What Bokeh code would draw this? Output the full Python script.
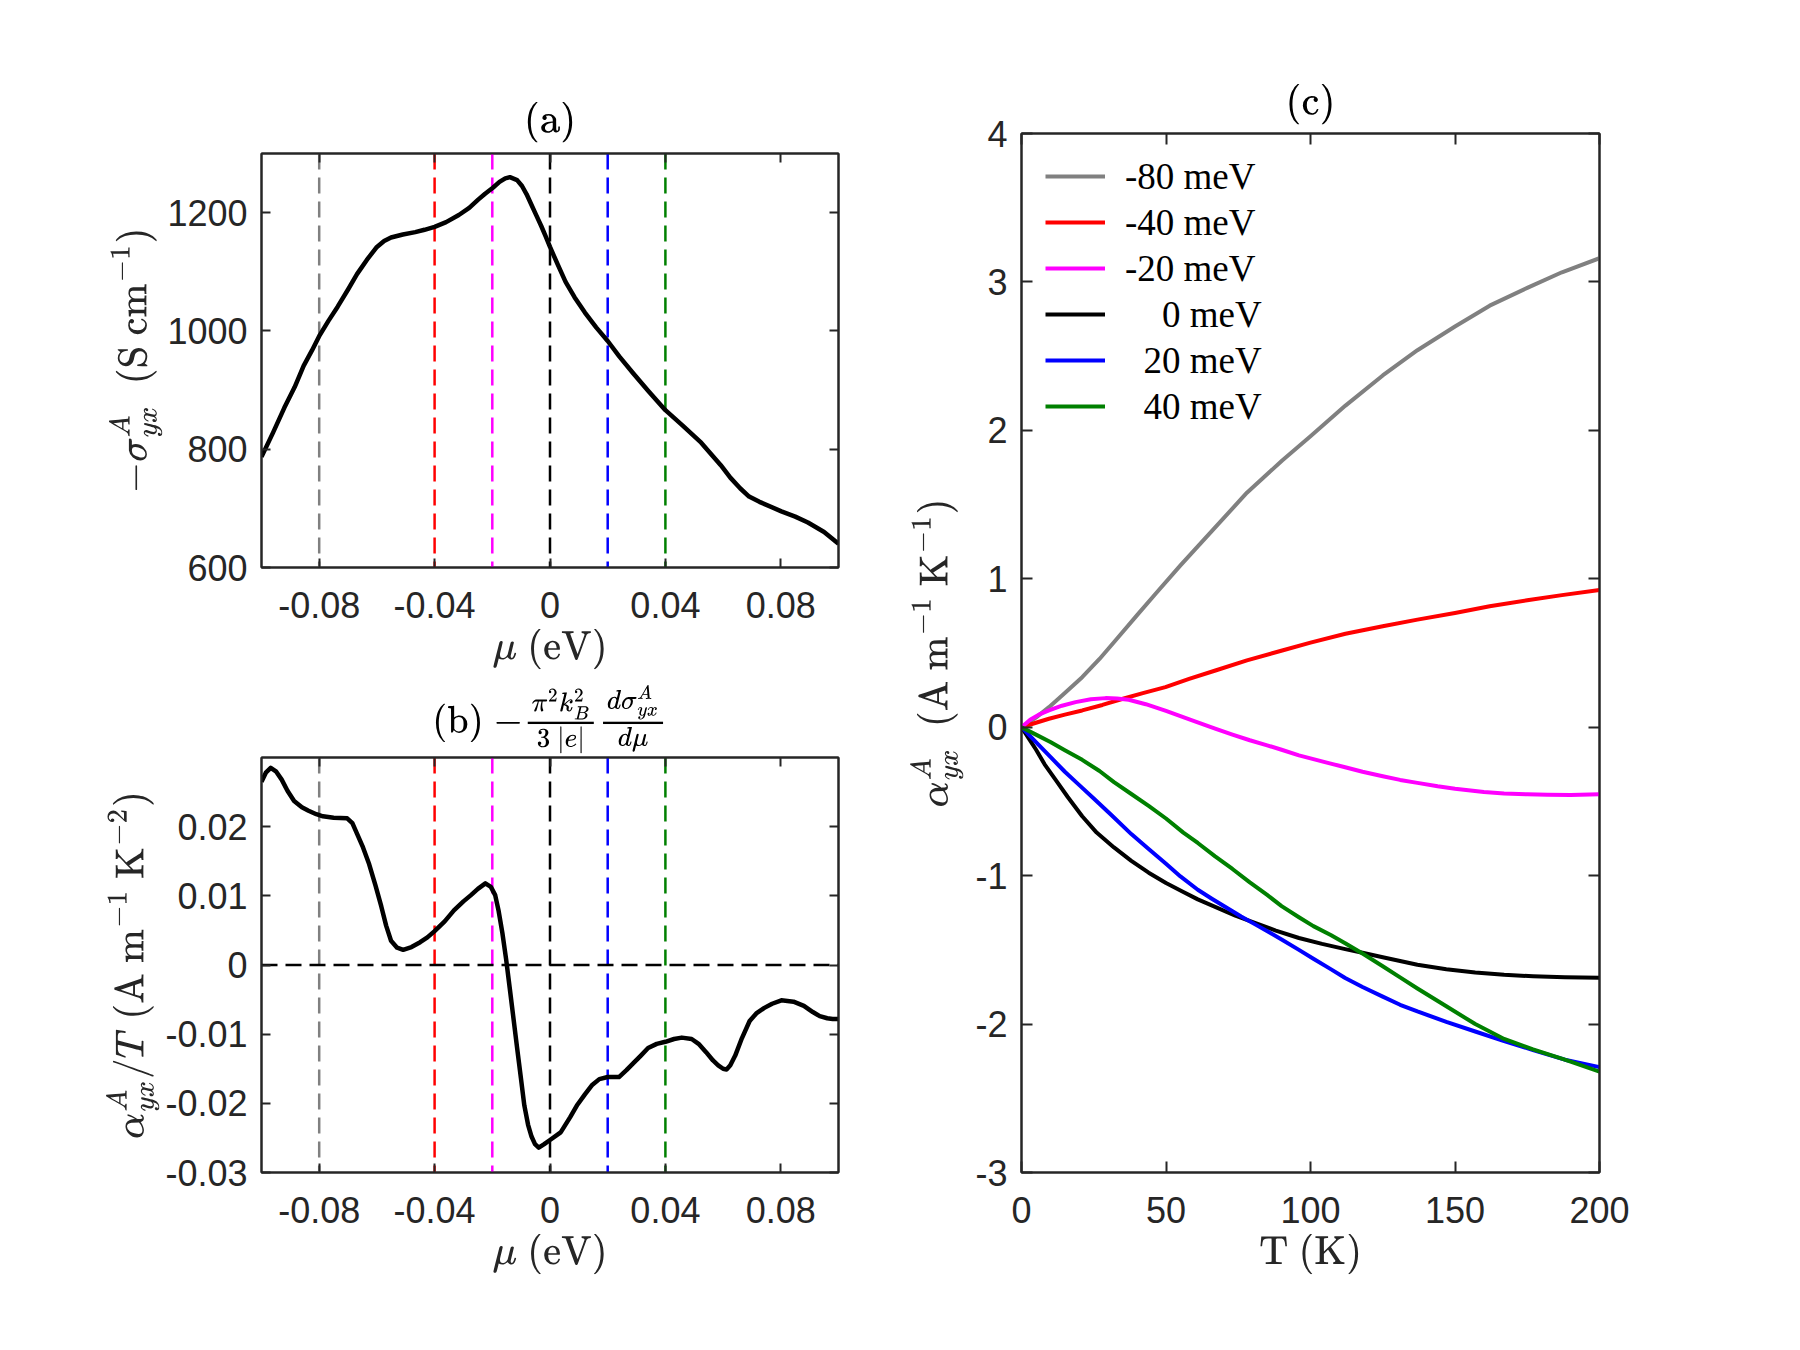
from bokeh.embed import file_html
from bokeh.layouts import column, row
from bokeh.models import FixedTicker, Legend, LegendItem, LinearAxis, Range1d, Span, TeX
from bokeh.plotting import figure
from bokeh.resources import INLINE

# ---------------------------------------------------------------- data
# (a) anomalous Hall conductivity vs chemical potential
mu_a = [-0.1, -0.096, -0.0921, -0.0885, -0.0854, -0.0825, -0.0798, -0.0768,
        -0.0736, -0.07, -0.0669, -0.0635, -0.0602, -0.0575, -0.0551, -0.051,
        -0.0467, -0.0435, -0.04, -0.036, -0.0316, -0.028, -0.0249, -0.0225,
        -0.0198, -0.0175, -0.0155, -0.0139, -0.0114, -0.0097, -0.0081, -0.0064,
        -0.0047, -0.003, -0.0015, 0.0, 0.0027, 0.0054, 0.0085, 0.0121, 0.016,
        0.02, 0.024, 0.0289, 0.034, 0.04, 0.046, 0.0524, 0.0592, 0.0625, 0.0659,
        0.069, 0.0726, 0.0802, 0.085, 0.0894, 0.095, 0.1]
sigma_a = [787, 828, 870, 905, 941, 967, 993, 1017,
           1041, 1070, 1096, 1120, 1141, 1152, 1158, 1163,
           1167, 1171, 1176, 1184, 1196, 1208, 1222, 1232,
           1242, 1252, 1258, 1260, 1255, 1245, 1231, 1213,
           1195, 1177, 1160, 1142, 1112, 1083, 1057, 1031, 1006,
           983, 957, 928, 899, 866, 840, 811, 773, 752, 734,
           720, 711, 695, 686, 676, 660, 640]

# (b) Mott-relation estimate alpha/T
mu_b = [-0.1, -0.0985, -0.0968, -0.095, -0.093, -0.091, -0.0887, -0.086,
        -0.0837, -0.081, -0.0787, -0.075, -0.0703, -0.0685, -0.0669, -0.065,
        -0.0627, -0.0605, -0.0585, -0.0568, -0.0551, -0.053, -0.0509, -0.048,
        -0.045, -0.0425, -0.04, -0.0365, -0.0333, -0.03, -0.0274, -0.025,
        -0.0224, -0.0205, -0.019, -0.0178, -0.0165, -0.0152, -0.014, -0.0127,
        -0.0114, -0.0101, -0.0089, -0.0076, -0.0064, -0.0052, -0.0039, -0.002,
        0.0, 0.0037, 0.007, 0.0095, 0.0121, 0.0145, 0.0171, 0.02, 0.0239,
        0.0265, 0.0289, 0.0315, 0.034, 0.037, 0.04, 0.043, 0.0457, 0.0491,
        0.0515, 0.0541, 0.0565, 0.0583, 0.06, 0.0612, 0.0625, 0.0642, 0.0665,
        0.0692, 0.0715, 0.0743, 0.077, 0.0802, 0.0844, 0.088, 0.0911, 0.0935,
        0.0961, 0.098, 0.1]
alpha_over_T = [0.0265, 0.0278, 0.0285, 0.0280, 0.0268, 0.0252, 0.0237, 0.0228,
                0.0223, 0.0218, 0.0215, 0.0213, 0.0212, 0.0205, 0.019, 0.0172,
                0.0146, 0.0115, 0.0085, 0.0057, 0.0035, 0.0025, 0.0022, 0.0026,
                0.0033, 0.004, 0.0049, 0.0063, 0.0079, 0.0092, 0.0101, 0.011,
                0.0118, 0.0113, 0.0101, 0.0078, 0.0046, 0.0008, -0.0032, -0.0076,
                -0.012, -0.0163, -0.0203, -0.0231, -0.0248, -0.0259, -0.0264, -0.0259,
                -0.0253, -0.0242, -0.022, -0.0202, -0.0187, -0.0174, -0.0165, -0.0162, -0.0162,
                -0.0152, -0.0142, -0.0131, -0.012, -0.0114, -0.0111, -0.0107, -0.0105, -0.0107,
                -0.0114, -0.0126, -0.0138, -0.0145, -0.0150, -0.0151, -0.0145, -0.0131, -0.0106,
                -0.0081, -0.0070, -0.0062, -0.0056, -0.0051, -0.0053, -0.0059, -0.0068, -0.0074,
                -0.0077, -0.0078, -0.0078]

# chemical potentials marked in (a), (b) and used as curves in (c)
mu_marks = [-0.08, -0.04, -0.02, 0.0, 0.02, 0.04]
mark_colors = ["#808080", "#ff0000", "#ff00ff", "#000000", "#0000ff", "#008000"]
zero_level = 0.0

# (c) anomalous Nernst coefficient vs temperature
T_m80 = [0, 5, 9.5, 15, 21, 27, 32.5, 40, 46.4, 55, 67.1, 78, 90.2, 100, 112.1,
         125, 137, 150, 162, 175, 187, 200]
a_m80 = [0, 0.065, 0.135, 0.23, 0.337, 0.46, 0.584, 0.755, 0.899, 1.09, 1.348, 1.58,
         1.797, 1.96, 2.167, 2.37, 2.54, 2.70, 2.84, 2.96, 3.065, 3.16]
T_m40 = [0, 5, 9.5, 15, 21, 28, 34.8, 42, 49.8, 58, 67.1, 78, 90.2, 100, 112.1,
         125, 137, 150, 162, 175, 187, 200]
a_m40 = [0, 0.03, 0.057, 0.085, 0.113, 0.15, 0.19, 0.23, 0.27, 0.325, 0.382, 0.45,
         0.517, 0.57, 0.63, 0.68, 0.725, 0.77, 0.815, 0.855, 0.89, 0.925]
T_m20 = [0, 3, 6, 9.5, 14, 18.7, 24, 29.1, 33, 37.1, 43, 50, 55, 60, 67, 73, 79, 85,
         90, 96, 102, 107, 112, 118, 125, 131, 137, 144, 150, 160, 167, 175, 182,
         190, 200]
a_m20 = [0, 0.05, 0.085, 0.113, 0.145, 0.169, 0.188, 0.196, 0.194, 0.185, 0.155,
         0.11, 0.075, 0.04, -0.01, -0.05, -0.088, -0.122, -0.152, -0.19, -0.22,
         -0.245, -0.27, -0.30, -0.33, -0.355, -0.375, -0.398, -0.415, -0.437,
         -0.446, -0.452, -0.455, -0.456, -0.452]
T_0 = [0, 2.5, 5, 8, 12, 16, 21, 26, 32, 38, 44, 50, 56, 61, 67, 74, 81, 88, 96,
       104, 112, 118, 125, 131, 137, 147, 157, 167, 177, 188, 200]
a_0 = [0, -0.075, -0.15, -0.25, -0.36, -0.47, -0.60, -0.71, -0.81, -0.90, -0.98,
       -1.05, -1.11, -1.16, -1.21, -1.27, -1.32, -1.37, -1.42, -1.46, -1.495,
       -1.52, -1.55, -1.575, -1.60, -1.63, -1.652, -1.668, -1.678, -1.685, -1.688]
T_20 = [0, 5, 10, 15, 20, 25, 31, 38, 44, 50, 55, 61, 66, 72, 76, 81, 86, 90, 96,
        101, 107, 112, 118, 125, 131, 137, 147, 157, 167, 177, 188, 200]
a_20 = [0, -0.10, -0.20, -0.30, -0.39, -0.48, -0.59, -0.72, -0.82, -0.92, -1.005,
        -1.095, -1.157, -1.228, -1.275, -1.33, -1.385, -1.43, -1.50, -1.56, -1.63,
        -1.69, -1.75, -1.815, -1.87, -1.915, -1.985, -2.05, -2.115, -2.175, -2.24,
        -2.29]
T_40 = [0, 5, 10, 15, 21, 27, 32, 38, 44, 50, 56, 61, 67, 73, 79, 85, 90, 96, 101,
        107, 112, 118, 125, 131, 137, 147, 157, 167, 177, 188, 200]
a_40 = [0, -0.05, -0.10, -0.155, -0.22, -0.295, -0.37, -0.45, -0.53, -0.615, -0.71,
        -0.78, -0.87, -0.955, -1.045, -1.13, -1.205, -1.28, -1.34, -1.40, -1.455,
        -1.525, -1.61, -1.685, -1.76, -1.88, -2.00, -2.10, -2.17, -2.24, -2.32]
legend_labels = ["-80 meV", "-40 meV", "-20 meV",
                 "\u2007\u20070 meV", "\u200720 meV", "\u200740 meV"]

# tick positions and their printed labels
mu_ticks = [-0.08, -0.04, 0.0, 0.04, 0.08]
mu_tick_labels = ["-0.08", "-0.04", "0", "0.04", "0.08"]
sigma_ticks = [600, 800, 1000, 1200]
sigma_tick_labels = ["600", "800", "1000", "1200"]
aT_ticks = [-0.03, -0.02, -0.01, 0.0, 0.01, 0.02]
aT_tick_labels = ["-0.03", "-0.02", "-0.01", "0", "0.01", "0.02"]
T_ticks = [0, 50, 100, 150, 200]
T_tick_labels = ["0", "50", "100", "150", "200"]
alpha_ticks = [-3, -2, -1, 0, 1, 2, 3, 4]
alpha_tick_labels = ["-3", "-2", "-1", "0", "1", "2", "3", "4"]

# ---------------------------------------------------------------- styling
INK = "#262626"
TICK_FONT = "Liberation Sans"
TICK_SIZE = "36px"
MATH_SIZE = "33px"


def style_axis(ax, ticks, labels, tick_len, label_standoff=14):
    ax.ticker = FixedTicker(ticks=ticks)
    ax.axis_line_color = INK
    ax.axis_line_width = 2
    ax.major_tick_line_color = INK
    ax.major_tick_line_width = 2
    ax.major_tick_in = tick_len
    ax.major_tick_out = 0
    ax.minor_tick_line_color = None
    if labels is None:
        ax.major_label_overrides = {t: "" for t in ticks}
        ax.major_label_text_font_size = "0px"
        ax.major_label_standoff = 0
    else:
        ax.major_label_overrides = dict(zip(ticks, labels))
        ax.major_label_text_font = TICK_FONT
        ax.major_label_text_font_size = TICK_SIZE
        ax.major_label_text_color = INK
        ax.major_label_standoff = label_standoff


def set_label(ax, tex, standoff, inline=False, color=INK, size=MATH_SIZE):
    ax.axis_label = TeX(text=tex, inline=inline)
    ax.axis_label_text_font_size = size
    ax.axis_label_text_font_style = "normal"
    ax.axis_label_text_color = color
    ax.axis_label_standoff = standoff


def make_panel(width, height, borders, xr, yr, xt, xl, yt, yl, tick_len):
    """Boxed axes with inward ticks on all four sides.

    Returns the figure and its bottom, left and top axes."""
    left, right, top, bottom = borders
    p = figure(width=width, height=height, output_backend="svg",
               toolbar_location=None, tools="",
               x_range=Range1d(*xr), y_range=Range1d(*yr),
               min_border_left=left, min_border_right=right,
               min_border_top=top, min_border_bottom=bottom)
    p.xgrid.visible = False
    p.ygrid.visible = False
    p.background_fill_color = "white"
    p.border_fill_color = "white"
    p.outline_line_color = INK
    p.outline_line_width = 2
    bottom_ax = p.below[0]
    left_ax = p.left[0]
    style_axis(bottom_ax, xt, xl, tick_len, label_standoff=24)
    style_axis(left_ax, yt, yl, tick_len, label_standoff=14)
    top_ax = LinearAxis()
    right_ax = LinearAxis()
    style_axis(top_ax, xt, None, tick_len)
    style_axis(right_ax, yt, None, tick_len)
    p.add_layout(top_ax, "above")
    p.add_layout(right_ax, "right")
    return p, bottom_ax, left_ax, top_ax


# ---------------------------------------------------------------- panel (a)
pa, pa_x, pa_y, pa_top = make_panel(900, 680, (261, 62, 153, 113), (-0.1, 0.1),
                                    (600, 1300), mu_ticks, mu_tick_labels,
                                    sigma_ticks, sigma_tick_labels, 9)
for m, c in zip(mu_marks, mark_colors):
    pa.add_layout(Span(location=m, dimension="height", line_color=c,
                       line_width=2.5, line_dash="16 8", level="underlay"))
pa.line(mu_a, sigma_a, line_color="black", line_width=4.5, line_join="round")
set_label(pa_x, r"\mu\ (\mathrm{eV})", 8)
set_label(pa_y, r"-\sigma^A_{yx}\ \ (\mathrm{S\ cm^{-1}})", 2)
set_label(pa_top, r"\mathrm{(a)}", 11, color="black")

# ---------------------------------------------------------------- panel (b)
pb, pb_x, pb_y, pb_top = make_panel(900, 670, (261, 62, 77, 178), (-0.1, 0.1),
                                    (-0.03, 0.03), mu_ticks, mu_tick_labels,
                                    aT_ticks, aT_tick_labels, 9)
for m, c in zip(mu_marks, mark_colors):
    pb.add_layout(Span(location=m, dimension="height", line_color=c,
                       line_width=2.5, line_dash="16 8", level="underlay"))
pb.add_layout(Span(location=zero_level, dimension="width", line_color="black",
                   line_width=2.5, line_dash="16 8", level="underlay"))
pb.line(mu_b, alpha_over_T, line_color="black", line_width=4.5, line_join="round")
set_label(pb_x, r"\mu\ (\mathrm{eV})", 8)
set_label(pb_y, r"\alpha^A_{yx}/T\ (\mathrm{A\ m^{-1}\ K^{-2}})", 3)
set_label(pb_top,
          r"\mathrm{(b)}\ {-}\frac{\pi^2 k_B^2}{3\ |e|}\frac{d\sigma^A_{yx}}{d\mu}",
          4, inline=True, color="black", size="32px")

# ---------------------------------------------------------------- panel (c)
pc, pc_x, pc_y, pc_top = make_panel(900, 1350, (121, 201, 133, 178), (0, 200),
                                    (-3, 4), T_ticks, T_tick_labels,
                                    alpha_ticks, alpha_tick_labels, 11)
series = [(T_m80, a_m80), (T_m40, a_m40), (T_m20, a_m20),
          (T_0, a_0), (T_20, a_20), (T_40, a_40)]
items = []
for (t, a), c, lab in zip(series, mark_colors, legend_labels):
    r = pc.line(t, a, line_color=c, line_width=4, line_join="round")
    items.append(LegendItem(label=lab, renderers=[r]))
# legend box anchored by its bottom-left corner, in pixels from the frame's
# bottom-left corner
legend = Legend(items=items, location=(24, 743), margin=0, padding=0,
                spacing=0, glyph_width=60, glyph_height=46, label_height=46,
                label_standoff=20, border_line_color=None,
                background_fill_alpha=0, label_text_font="Liberation Serif",
                label_text_font_size="37px", label_text_color="black")
pc.add_layout(legend)
set_label(pc_x, r"\mathrm{T\ (K)}", 8)
set_label(pc_y, r"\alpha^A_{yx}\ \ (\mathrm{A\ m^{-1}\ K^{-1}})", 9)
set_label(pc_top, r"\mathrm{(c)}", 9, color="black")

layout = row(column(pa, pb), pc)
open("out.html", "w").write(file_html(layout, INLINE))
